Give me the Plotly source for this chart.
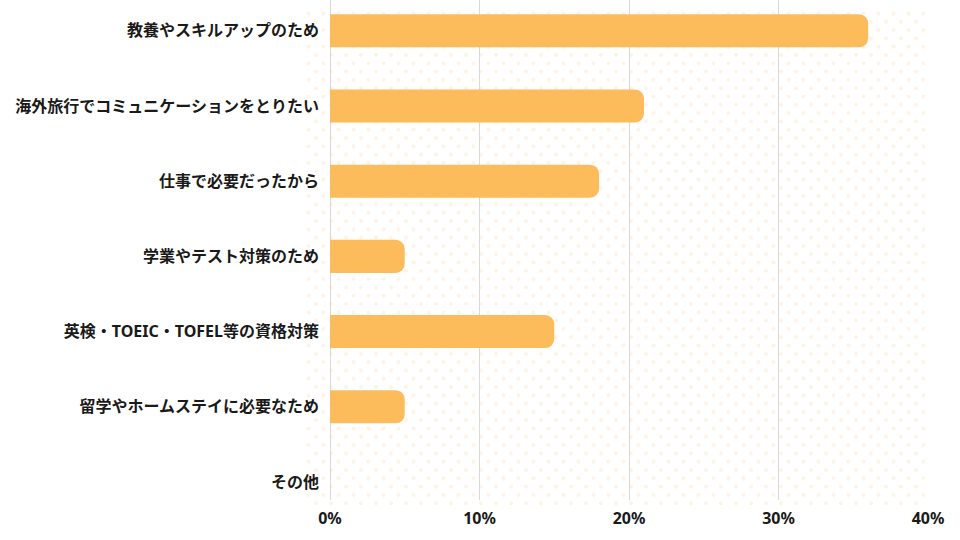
import plotly.graph_objects as go
import urllib.parse

categories = [
    "教養やスキルアップのため",
    "海外旅行でコミュニケーションをとりたい",
    "仕事で必要だったから",
    "学業やテスト対策のため",
    "英検・TOEIC・TOFEL等の資格対策",
    "留学やホームステイに必要なため",
    "その他",
]
values = [36, 21, 18, 5, 15, 5, 0]
tick_values = [0, 10, 20, 30, 40]
tick_labels = ["0%", "10%", "20%", "30%", "40%"]

BAR_COLOR = "#FDBC5C"
FONT = "Noto Sans, Noto Sans CJK JP"

svg = (
    '<svg xmlns="http://www.w3.org/2000/svg" width="620" height="495">'
    '<defs><pattern id="p" width="15" height="16.6" patternUnits="userSpaceOnUse">'
    '<circle cx="3.5" cy="3.5" r="2" fill="#FEF3E6"/>'
    '<circle cx="11" cy="11.8" r="2" fill="#FEF3E6"/>'
    '</pattern></defs>'
    '<rect width="620" height="495" fill="url(#p)"/></svg>'
)
svg_uri = "data:image/svg+xml;charset=utf-8," + urllib.parse.quote(svg)

fig = go.Figure(
    go.Bar(
        x=values,
        y=categories,
        orientation="h",
        marker=dict(color=BAR_COLOR, line=dict(width=0)),
        width=0.44,
        hoverinfo="x+y",
    )
)

fig.update_layout(
    width=960,
    height=540,
    margin=dict(l=330, r=32, t=0, b=40, autoexpand=False),
    paper_bgcolor="white",
    plot_bgcolor="rgba(0,0,0,0)",
    barcornerradius=9,
    showlegend=False,
    font=dict(family=FONT, size=14, color="#1a1a1a"),
    images=[
        dict(
            source=svg_uri,
            xref="paper",
            yref="paper",
            x=-25 / 598,
            y=490 / 500,
            sizex=620 / 598,
            sizey=495 / 500,
            sizing="stretch",
            xanchor="left",
            yanchor="top",
            layer="below",
        )
    ],
)

fig.update_xaxes(
    range=[0, 40],
    tickvals=tick_values,
    ticktext=[f"<b>{t}</b>" for t in tick_labels],
    showgrid=True,
    gridcolor="#D9D9D9",
    gridwidth=1,
    zeroline=True,
    zerolinecolor="#D9D9D9",
    zerolinewidth=1,
    showline=False,
    ticks="",
    automargin=False,
    ticklabelstandoff=7,
    tickfont=dict(family=FONT, size=16, color="#1a1a1a"),
    fixedrange=True,
)

fig.update_yaxes(
    type="category",
    categoryorder="array",
    categoryarray=categories,
    range=[6.24, -0.41],
    tickvals=categories,
    ticktext=[f"<b>{c}</b>" for c in categories],
    showgrid=False,
    zeroline=False,
    showline=False,
    ticks="",
    automargin=False,
    ticklabelstandoff=10,
    tickfont=dict(family=FONT, size=16, color="#1a1a1a"),
    fixedrange=True,
)

fig.write_html(
    "out.html",
    config={"displayModeBar": False},
    post_script="document.body.style.margin='0';document.body.style.padding='0';",
)
